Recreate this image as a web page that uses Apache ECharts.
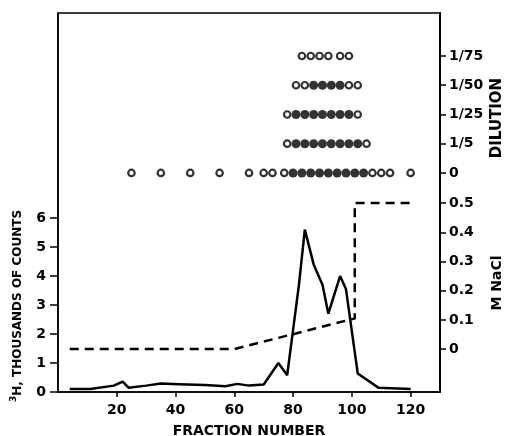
<!DOCTYPE html>
<html>
<head>
<meta charset="utf-8">
<script src="https://cdn.jsdelivr.net/npm/echarts@6/dist/echarts.min.js"></script>
<style>
  html, body { margin: 0; padding: 0; background: #fff; }
  #chart { width: 507px; height: 436px; }
</style>
</head>
<body>
<div id="chart"></div>
<script>
// 3H counts (thousands) per fraction
const countFractions = [4, 11, 19, 22, 24, 30, 35, 41, 50, 57, 61, 65, 70, 75, 78, 82, 84, 87, 90, 92, 96, 98, 102, 109, 120]
const countValues = [0.1, 0.1, 0.22, 0.36, 0.15, 0.22, 0.29, 0.27, 0.24, 0.2, 0.28, 0.22, 0.26, 1.0, 0.58, 3.7, 5.6, 4.4, 3.7, 2.7, 4.0, 3.55, 0.64, 0.15, 0.1]

// NaCl gradient (M)
const saltFractions = [4, 60, 101, 101, 120]
const saltValues = [0, 0, 0.105, 0.5, 0.5]

// tick labels
const fractionTicks = [20, 40, 60, 80, 100, 120]
const countTicks = [0, 1, 2, 3, 4, 5, 6]
const saltTicks = [0, 0.1, 0.2, 0.3, 0.4, 0.5]
const dilutionLevels = ['0', '1/5', '1/25', '1/50', '1/75']

// activity assay per dilution: fractions tested, 1 = positive (filled)
const rowFractions0 = [25, 35, 45, 55, 65, 70, 73, 77, 80, 83, 86, 89, 92, 95, 98, 101, 104, 107, 110, 113, 120]
const rowActive0 = [0, 0, 0, 0, 0, 0, 0, 0, 1, 1, 1, 1, 1, 1, 1, 1, 1, 0, 0, 0, 0]
const rowFractions5 = [78, 81, 84, 87, 90, 93, 96, 99, 102, 105]
const rowActive5 = [0, 1, 1, 1, 1, 1, 1, 1, 1, 0]
const rowFractions25 = [78, 81, 84, 87, 90, 93, 96, 99, 102]
const rowActive25 = [0, 1, 1, 1, 1, 1, 1, 1, 0]
const rowFractions50 = [81, 84, 87, 90, 93, 96, 99, 102]
const rowActive50 = [0, 0, 1, 1, 1, 1, 0, 0]
const rowFractions75 = [83, 86, 89, 92, 96, 99]
const rowActive75 = [0, 0, 0, 0, 0, 0]

const rows = [
  [rowFractions0, rowActive0],
  [rowFractions5, rowActive5],
  [rowFractions25, rowActive25],
  [rowFractions50, rowActive50],
  [rowFractions75, rowActive75]
]

// dilution rows are placed by their index on their own value axis
const openPoints = []
const filledPoints = []
rows.forEach(([fr, act], i) => {
  fr.forEach((f, j) => {
    if (act[j]) filledPoints.push([f, i])
    else openPoints.push([f, i])
  })
})
const dilutionTicks = dilutionLevels.map((_, i) => i)

const font = { fontFamily: 'DejaVu Sans', fontWeight: 'bold', fontSize: 14, color: '#000' }
const axisLine = { show: true, onZero: false, lineStyle: { color: '#000', width: 1.5 } }
const tickStyle = { color: '#000', width: 1.5 }

const chart = echarts.init(document.getElementById('chart'))
chart.setOption({
  animation: false,
  backgroundColor: '#fff',
  grid: {
    left: 58, right: 67, top: 13, bottom: 44,
    outerBoundsMode: 'none',
    show: true, borderColor: '#000', borderWidth: 1.5
  },
  xAxis: {
    type: 'value',
    min: 0,
    max: 130,
    axisLine: axisLine,
    axisTick: { show: true, length: 5, lineStyle: tickStyle, customValues: fractionTicks },
    axisLabel: { ...font, margin: 11, customValues: fractionTicks },
    splitLine: { show: false },
    name: 'FRACTION NUMBER',
    nameLocation: 'middle',
    nameGap: 32,
    nameTextStyle: { ...font }
  },
  yAxis: [
    {
      type: 'value',
      position: 'left',
      min: 0,
      max: 13.07,
      axisLine: axisLine,
      axisTick: { show: true, length: 8, lineStyle: tickStyle, customValues: countTicks },
      axisLabel: { ...font, margin: 12, customValues: countTicks },
      splitLine: { show: false }
    },
    {
      type: 'value',
      position: 'right',
      min: -0.147,
      max: 1.151,
      axisLine: axisLine,
      axisTick: { show: true, length: 6, lineStyle: tickStyle, customValues: saltTicks },
      axisLabel: { ...font, margin: 9, customValues: saltTicks, formatter: (v) => (v === 0 ? '0' : String(v)) },
      splitLine: { show: false }
    },
    {
      type: 'value',
      position: 'right',
      offset: 0,
      min: -7.49,
      max: 5.47,
      axisLine: axisLine,
      axisTick: { show: true, length: 6, lineStyle: tickStyle, customValues: dilutionTicks },
      axisLabel: { ...font, margin: 9, customValues: dilutionTicks, formatter: (v) => dilutionLevels[Math.round(v)] },
      splitLine: { show: false }
    }
  ],
  graphic: [
    {
      type: 'text',
      x: 18,
      y: 306,
      rotation: Math.PI / 2,
      style: {
        text: '{s|3}H, THOUSANDS OF COUNTS',
        ...font,
        fontSize: 12,
        fill: '#000',
        align: 'center',
        verticalAlign: 'middle',
        rich: { s: { ...font, fontSize: 9, padding: [0, 0, 9, 0] } }
      }
    },
    {
      type: 'text',
      x: 497,
      y: 283,
      rotation: Math.PI / 2,
      style: { text: 'M NaCl', ...font, fill: '#000', align: 'center', verticalAlign: 'middle' }
    },
    {
      type: 'text',
      x: 497,
      y: 118,
      rotation: Math.PI / 2,
      style: { text: 'DILUTION', ...font, fontSize: 15, fill: '#000', align: 'center', verticalAlign: 'middle' }
    }
  ],
  series: [
    {
      type: 'line',
      yAxisIndex: 0,
      data: countFractions.map((f, i) => [f, countValues[i]]),
      showSymbol: false,
      lineStyle: { color: '#000', width: 2.5 }
    },
    {
      type: 'line',
      yAxisIndex: 1,
      data: saltFractions.map((f, i) => [f, saltValues[i]]),
      showSymbol: false,
      lineStyle: { color: '#000', width: 2.5, type: [9, 6] }
    },
    {
      type: 'scatter',
      yAxisIndex: 2,
      data: openPoints,
      symbol: 'circle',
      symbolSize: 6.5,
      itemStyle: { color: '#fff', borderColor: '#000', borderWidth: 2.2 }
    },
    {
      type: 'scatter',
      yAxisIndex: 2,
      data: filledPoints,
      symbol: 'circle',
      symbolSize: 9,
      itemStyle: { color: '#000' }
    }
  ]
})
</script>
</body>
</html>
